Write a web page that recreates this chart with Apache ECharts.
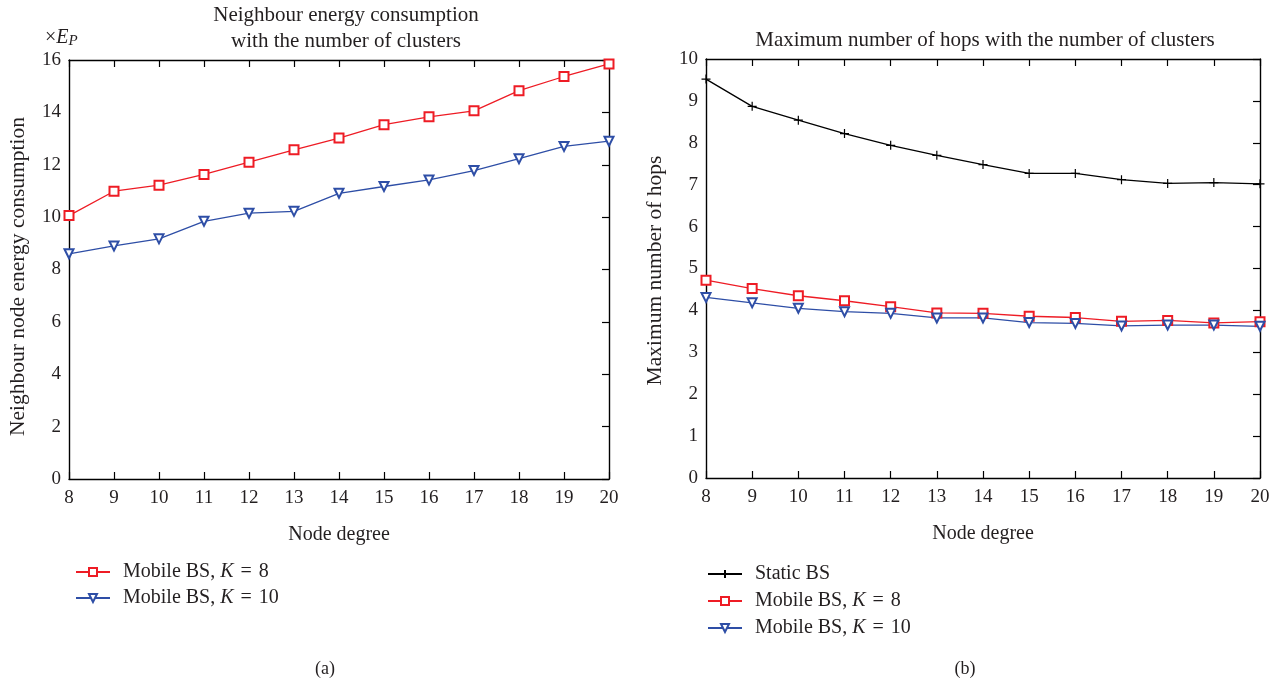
<!DOCTYPE html>
<html>
<head>
<meta charset="utf-8">
<script src="https://cdn.jsdelivr.net/npm/echarts@6/dist/echarts.min.js"></script>
<style>
  html, body { margin: 0; padding: 0; background: #fff; }
  #chart { width: 1278px; height: 687px; }
</style>
</head>
<body>
<div id="chart"></div>
<script>
// Node degree (x values shared by both panels)
const nodeDegree = [8, 9, 10, 11, 12, 13, 14, 15, 16, 17, 18, 19, 20];

// Panel (a): neighbour node energy consumption (x E_P)
const energyMobileK8  = [10.06, 10.99, 11.22, 11.63, 12.10, 12.57, 13.02, 13.53, 13.83, 14.06, 14.83, 15.37, 15.85];
const energyMobileK10 = [8.60, 8.90, 9.17, 9.84, 10.15, 10.22, 10.91, 11.17, 11.42, 11.78, 12.23, 12.70, 12.90];

// Panel (b): maximum number of hops
const hopsStatic     = [9.52, 8.87, 8.54, 8.22, 7.94, 7.70, 7.48, 7.27, 7.27, 7.12, 7.03, 7.05, 7.02];
const hopsMobileK8   = [4.72, 4.52, 4.35, 4.23, 4.09, 3.94, 3.93, 3.86, 3.83, 3.74, 3.76, 3.70, 3.73];
const hopsMobileK10  = [4.31, 4.18, 4.05, 3.97, 3.93, 3.82, 3.82, 3.71, 3.69, 3.63, 3.65, 3.65, 3.62];

const FONT = '"Liberation Serif", "DejaVu Serif", serif';
const TXT = '#231f20';
const RED = '#ee1c25';
const BLUE = '#2e4ea6';

const pairs = ys => nodeDegree.map((x, i) => [x, ys[i]]);

const TICK = { show: true, inside: true, length: 7, lineStyle: { color: '#000', width: 1.2 } };
const NO_TICK = { show: false };
const AXLINE = { show: true, onZero: false, lineStyle: { color: '#000', width: 1.4 } };

function xAxes(gridIndex) {
  return [
    {
      type: 'value', gridIndex, min: 8, max: 20, interval: 1, position: 'bottom',
      name: 'Node degree', nameLocation: 'middle', nameGap: 46,
      nameTextStyle: { fontFamily: FONT, fontSize: 20, color: TXT },
      axisLine: AXLINE, axisTick: TICK,
      axisLabel: { fontFamily: FONT, fontSize: 19, color: TXT, margin: 10 },
      splitLine: { show: false }
    },
    {
      type: 'value', gridIndex, min: 8, max: 20, interval: 1, position: 'top',
      axisLine: AXLINE, axisTick: TICK,
      axisLabel: { show: false },
      splitLine: { show: false }
    }
  ];
}

function yAxes(gridIndex, max, interval, name, namePad) {
  return [
    {
      type: 'value', gridIndex, min: 0, max, interval, position: 'left',
      name, nameLocation: 'middle', nameGap: 40,
      nameTextStyle: { fontFamily: FONT, fontSize: 21.5, color: TXT, padding: namePad },
      axisLine: AXLINE, axisTick: NO_TICK,
      axisLabel: { fontFamily: FONT, fontSize: 19, color: TXT, margin: 8 },
      splitLine: { show: false }
    },
    {
      type: 'value', gridIndex, min: 0, max, interval, position: 'right',
      axisLine: AXLINE, axisTick: TICK,
      axisLabel: { show: false },
      splitLine: { show: false }
    }
  ];
}

function lineSeries(name, data, xi, yi, color, symbol, rotate) {
  return {
    type: 'line', name, data: pairs(data),
    xAxisIndex: xi, yAxisIndex: yi,
    symbol, symbolSize: 9, symbolRotate: rotate || 0,
    showAllSymbol: true,
    lineStyle: { color, width: 1.3 },
    itemStyle: { color, borderColor: color, borderWidth: 1.2 },
    animation: false, z: 3
  };
}

const CROSS = 'path://M5,0 L5,10 M0,5 L10,5';

const legendRich = {
  e: { fontFamily: FONT, fontSize: 20, color: TXT, padding: [0, 7, 0, 7] },
  i: { fontFamily: FONT, fontSize: 20, fontStyle: 'italic', color: TXT }
};
const legendFormatter = n => n.trim().replace('K = ', '{i|K}{e|=}');

const legendBase = {
  orient: 'vertical', padding: 0,
  itemWidth: 34, itemHeight: 10, selectedMode: false,
  formatter: legendFormatter,
  textStyle: { fontFamily: FONT, fontSize: 20, color: TXT, rich: legendRich, padding: [0, 0, 0, 8] }
};

const chart = echarts.init(document.getElementById('chart'), null, { renderer: 'canvas' });

chart.setOption({
  backgroundColor: '#ffffff',
  animation: false,
  title: [
    {
      text: 'Neighbour energy consumption\nwith the number of clusters',
      left: 341, top: -3, textAlign: 'center',
      textStyle: { fontFamily: FONT, fontSize: 21, fontWeight: 'normal', color: TXT, lineHeight: 26 }
    },
    {
      text: 'Maximum number of hops with the number of clusters',
      left: 980, top: 25, textAlign: 'center',
      textStyle: { fontFamily: FONT, fontSize: 21, fontWeight: 'normal', color: TXT }
    },
    {
      text: '(a)', left: 320, top: 655, textAlign: 'center',
      textStyle: { fontFamily: FONT, fontSize: 18, fontWeight: 'normal', color: TXT }
    },
    {
      text: '(b)', left: 960, top: 655, textAlign: 'center',
      textStyle: { fontFamily: FONT, fontSize: 18, fontWeight: 'normal', color: TXT }
    }
  ],
  graphic: [
    {
      type: 'text', left: 45, top: 28,
      style: {
        text: '×{e|E}{p|P}',
        font: '20px ' + FONT, fill: TXT,
        rich: {
          e: { fontFamily: FONT, fontSize: 20, fontStyle: 'italic', fill: TXT, color: TXT },
          p: { fontFamily: FONT, fontSize: 15, fontStyle: 'italic', fill: TXT, color: TXT, padding: [7, 0, 0, 0] }
        }
      }
    }
  ],
  grid: [
    { left: 69, right: 669, top: 60, bottom: 208 },
    { left: 706, right: 18, top: 59, bottom: 209 }
  ],
  xAxis: [...xAxes(0), ...xAxes(1)],
  yAxis: [
    ...yAxes(0, 16, 2, 'Neighbour node energy consumption', [0, 14, 0, 0]),
    ...yAxes(1, 10, 1, 'Maximum number of hops', [0, 4, 0, 0])
  ],
  legend: [
    Object.assign({}, legendBase, {
      data: ['Mobile BS, K = 8 ', 'Mobile BS, K = 10 '],
      left: 75, top: 562, itemGap: 6
    }),
    Object.assign({}, legendBase, {
      data: ['Static BS', 'Mobile BS, K = 8', 'Mobile BS, K = 10'],
      left: 707, top: 564, itemGap: 7
    })
  ],
  series: [
    lineSeries('Mobile BS, K = 8 ', energyMobileK8, 0, 0, RED, 'emptyRect'),
    lineSeries('Mobile BS, K = 10 ', energyMobileK10, 0, 0, BLUE, 'emptyTriangle', 180),
    lineSeries('Static BS', hopsStatic, 2, 2, '#000', CROSS),
    lineSeries('Mobile BS, K = 8', hopsMobileK8, 2, 2, RED, 'emptyRect'),
    lineSeries('Mobile BS, K = 10', hopsMobileK10, 2, 2, BLUE, 'emptyTriangle', 180)
  ]
});
</script>
</body>
</html>
